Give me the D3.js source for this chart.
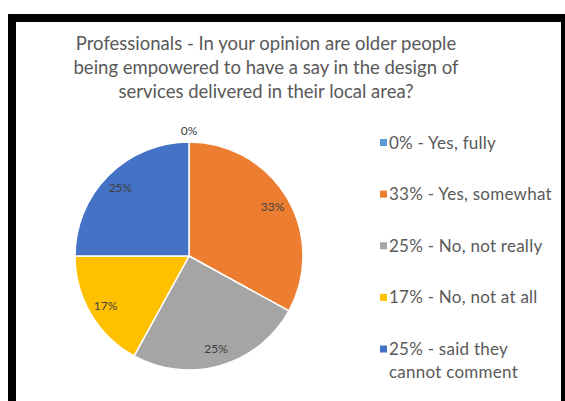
<!DOCTYPE html>
<html>
<head>
<meta charset="utf-8">
<script src="https://cdn.jsdelivr.net/npm/d3@7"></script>
<style>
  html, body { margin: 0; padding: 0; background: #fff; }
  svg { display: block; }
</style>
</head>
<body>
<script>
// Survey answers, share of respondents (%)
const answers = ["Yes, fully", "Yes, somewhat", "No, not really", "No, not at all", "said they cannot comment"];
const values = [0, 33, 25, 17, 25];
const colors = ["#5B9BD5", "#ED7D31", "#A5A5A5", "#FFC000", "#4472C4"];
const titleLines = [
  "Professionals - In your opinion are older people",
  "being empowered to have a say in the design of",
  "services delivered in their local area?"
];

const W = 565, H = 401;
const svg = d3.select("body").append("svg").attr("width", W).attr("height", H);

svg.append("rect").attr("width", W).attr("height", H).attr("fill", "#fff");

// Frame around the chart panel
svg.append("rect").attr("x", 8).attr("y", 14).attr("width", W - 8).attr("height", 8).attr("fill", "#000");
svg.append("rect").attr("x", 8).attr("y", 14).attr("width", 8).attr("height", H - 14).attr("fill", "#000");
svg.append("rect").attr("x", 561).attr("y", 14).attr("width", 4).attr("height", H - 14).attr("fill", "#000");

// Title
svg.append("g").selectAll("text").data(titleLines).join("text")
  .attr("x", 266)
  .attr("y", (d, i) => 49.5 + i * 24)
  .attr("text-anchor", "middle")
  .attr("font-family", "Lato, 'Open Sans', sans-serif")
  .attr("font-size", 18.5)
  .attr("fill", "#595959")
  .text(d => d);

// Pie
const cx = 189, cy = 256, r = 114;
const pie = d3.pie().sort(null).value(d => d);
const arcs = pie(values);
const arc = d3.arc().innerRadius(0).outerRadius(r);
const labelArc = d3.arc().innerRadius(97).outerRadius(97);
const outerLabelArc = d3.arc().innerRadius(125).outerRadius(125);

const g = svg.append("g").attr("transform", `translate(${cx},${cy})`);
g.selectAll("path").data(arcs).join("path")
  .attr("d", arc)
  .attr("fill", (d, i) => colors[i])
  .attr("stroke", "#fff")
  .attr("stroke-width", 1.5)
  .attr("stroke-linejoin", "round");

g.selectAll("text").data(arcs).join("text")
  .attr("transform", d => `translate(${(d.value === 0 ? outerLabelArc : labelArc).centroid(d)})`)
  .attr("text-anchor", "middle")
  .attr("dy", "0.35em")
  .attr("font-family", "Lato, 'Open Sans', sans-serif")
  .attr("font-size", 12)
  .attr("fill", "#404040")
  .text(d => d.value + "%");

// Legend
const legend = svg.append("g").attr("font-family", "Lato, 'Open Sans', sans-serif")
  .attr("font-size", 17).attr("letter-spacing", 0.25).attr("fill", "#595959");
const rowY = d3.scaleLinear().domain([0, 4]).range([148.5, 355]);
answers.forEach((a, i) => {
  const y = rowY(i);
  legend.append("rect")
    .attr("x", 380).attr("y", y - 9.5)
    .attr("width", 7).attr("height", 7)
    .attr("fill", colors[i]);
  const t = legend.append("text").attr("x", 389).attr("y", y);
  if (i === 4) {
    t.append("tspan").attr("x", 389).text(`${values[i]}% - said they`);
    t.append("tspan").attr("x", 389).attr("dy", 23).text("cannot comment");
  } else {
    t.text(`${values[i]}% - ${a}`);
  }
});
</script>
</body>
</html>
